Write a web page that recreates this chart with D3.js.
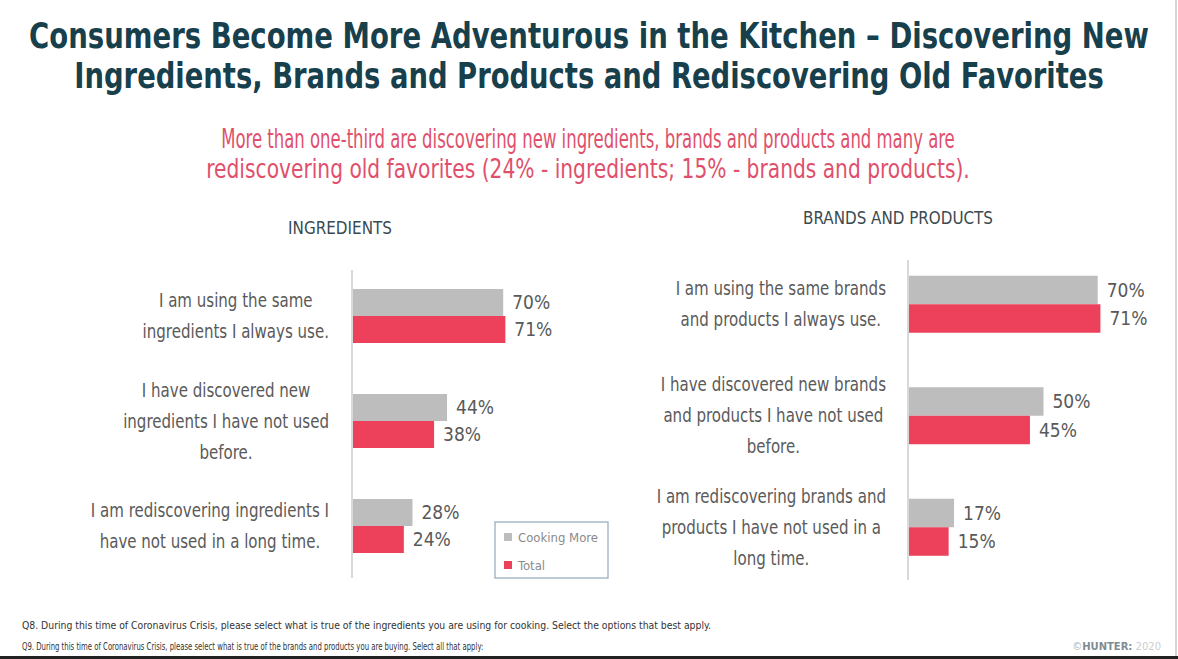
<!DOCTYPE html>
<html>
<head>
<meta charset="utf-8">
<script src="https://cdn.jsdelivr.net/npm/d3@7"></script>
<style>
  body { margin: 0; background: #fff; }
  svg { display: block; }
</style>
</head>
<body>
<div id="chart"></div>
<script>
// data
let series = ["Cooking More", "Total"];

let ingCats = [
  ["I am using the same", "ingredients I always use."],
  ["I have discovered new", "ingredients I have not used", "before."],
  ["I am rediscovering ingredients I", "have not used in a long time."]
];
let ingCooking = [70, 44, 28];
let ingTotal = [71, 38, 24];

let brandCats = [
  ["I am using the same brands", "and products I always use."],
  ["I have discovered new brands", "and products I have not used", "before."],
  ["I am rediscovering brands and", "products I have not used in a", "long time."]
];
let brandCooking = [70, 50, 17];
let brandTotal = [71, 45, 15];

let W = 1178, H = 659;
let grayC = "#bdbdbe", redC = "#ec405b";
let labelFont = "'DejaVu Sans Condensed', 'Open Sans', sans-serif";

let svg = d3.select("#chart")
              .append("svg")
                .attr("width", W)
                .attr("height", H)
;

// slide frame
svg.append("rect").attr("x", 0).attr("y", 0).attr("width", W).attr("height", H).attr("fill", "#fff");
svg.append("line").attr("x1", 1176).attr("x2", 1176).attr("y1", 0).attr("y2", H)
    .attr("stroke", "#c8c8c8").attr("stroke-width", 1.5);
svg.append("rect").attr("x", 0).attr("y", 656).attr("width", W).attr("height", 3).attr("fill", "#222");

// squeeze a text horizontally to a target width (the slide font is condensed)
function squeezed(x, y, anchor, target, size, fill, weight, txt){
  let g = svg.append("g");
  let t = g.append("text")
      .attr("text-anchor", anchor)
      .attr("font-family", labelFont)
      .attr("font-weight", weight)
      .attr("font-size", size)
      .attr("fill", fill)
      .text(txt);
  let k = target / t.node().getComputedTextLength();
  g.attr("transform", "translate(" + x + "," + y + ") scale(" + k + ",1)");
  return t;
}

// title
let titleLines = [
  {t: "Consumers Become More Adventurous in the Kitchen \u2013 Discovering New", y: 48, w: 1120},
  {t: "Ingredients, Brands and Products and Rediscovering Old Favorites", y: 88, w: 1030}
];
titleLines.forEach(function(l){
  squeezed(589, l.y, "middle", l.w, 36, "#17404c", "bold", l.t);
});

let subLines = [
  {t: "More than one-third are discovering new ingredients, brands and products  and many are", y: 148, w: 734},
  {t: "rediscovering old favorites (24% - ingredients; 15% - brands and products).", y: 178, w: 764}
];
subLines.forEach(function(l){
  squeezed(588, l.y, "middle", l.w, 27, "#e0506c", "normal", l.t);
});

function drawPanel(opt){
  let g = svg.append("g");
  let idx = d3.range(opt.cats.length);

  let x = d3.scaleLinear().domain([0, 100]).range([opt.x0, opt.x0 + opt.pxPer * 100]);
  let y = d3.scaleBand().domain(idx).range(opt.yRange).padding(0);
  let yi = d3.scaleBand().domain(series).range([y.bandwidth()/2 - opt.barH, y.bandwidth()/2 + opt.barH]);

  // panel heading
  squeezed(opt.headX, opt.headY, "middle", opt.headW, 17, "#3a4a50", "normal", opt.head);

  let rows = idx.map(function(i){
    return {i: i, vals: [opt.cook[i], opt.total[i]]};
  });

  let grp = g.selectAll(".grp")
              .data(rows)
              .enter()
              .append("g")
                .attr("transform", function(d){ return "translate(0," + y(d.i) + ")"; });

  grp.selectAll("rect")
      .data(function(d){ return d.vals.map(function(v, k){ return {s: series[k], v: v}; }); })
      .enter()
      .append("rect")
        .attr("x", x(0))
        .attr("y", function(d){ return yi(d.s); })
        .attr("width", function(d){ return x(d.v) - x(0); })
        .attr("height", yi.bandwidth())
        .attr("fill", function(d){ return d.s === "Total" ? redC : grayC; });

  grp.selectAll(".val")
      .data(function(d){ return d.vals.map(function(v, k){ return {s: series[k], v: v}; }); })
      .enter()
      .append("text")
        .attr("x", function(d){ return x(d.v) + 9; })
        .attr("y", function(d){ return yi(d.s) + yi.bandwidth()/2; })
        .attr("dy", "0.35em")
        .attr("font-family", labelFont)
        .attr("font-size", 19)
        .attr("fill", "#595959")
        .text(function(d){ return d.v + "%"; });

  // category labels: centred lines, block right-aligned
  grp.each(function(d){
    let lines = opt.cats[d.i];
    let sel = d3.select(this);
    let tmp = sel.selectAll(".cl")
                  .data(lines)
                  .enter()
                  .append("text")
                    .attr("font-family", labelFont)
                    .attr("font-size", 19)
                    .attr("fill", "#5a5a5a")
                    .attr("text-anchor", "middle")
                    .text(function(t){ return t; });
    let maxW = 0;
    tmp.each(function(){
      let w = this.getComputedTextLength() * 0.88;
      d3.select(this).attr("textLength", w).attr("lengthAdjust", "spacingAndGlyphs");
      maxW = Math.max(maxW, w);
    });
    let cx = opt.labRight - maxW/2;
    let mid = y.bandwidth()/2;
    tmp.attr("x", cx)
       .attr("y", function(t, j){ return mid + (j - (lines.length - 1)/2) * opt.lineH; })
       .attr("dy", "0.35em");
  });

  // axis line
  g.append("line")
      .attr("x1", x(0)).attr("x2", x(0))
      .attr("y1", opt.axisY[0]).attr("y2", opt.axisY[1])
      .attr("stroke", "#d9d9d9")
      .attr("stroke-width", 2);
}

drawPanel({
  head: "INGREDIENTS", headX: 340, headY: 234, headW: 104,
  cats: ingCats, cook: ingCooking, total: ingTotal,
  x0: 352, pxPer: 2.16, yRange: [263.5, 578.5], barH: 27,
  axisY: [270, 578], labRight: 329, lineH: 31
});

drawPanel({
  head: "BRANDS AND PRODUCTS", headX: 898, headY: 224, headW: 190,
  cats: brandCats, cook: brandCooking, total: brandTotal,
  x0: 908, pxPer: 2.71, yRange: [248.5, 583], barH: 28.5,
  axisY: [260, 580], labRight: 886, lineH: 31
});

// legend
let leg = svg.append("g").attr("transform", "translate(495,522)");
leg.append("rect")
    .attr("x", 0).attr("y", 0).attr("width", 113).attr("height", 56)
    .attr("fill", "#fff").attr("stroke", "#8fa8bd").attr("stroke-width", 1.2);
let li = leg.selectAll(".li")
            .data(series)
            .enter()
            .append("g")
              .attr("transform", function(d, i){ return "translate(9," + (15 + i * 28) + ")"; });
li.append("rect")
    .attr("x", 0).attr("y", -4).attr("width", 8).attr("height", 8)
    .attr("fill", function(d){ return d === "Total" ? redC : grayC; });
li.append("text")
    .attr("x", 14).attr("y", 0).attr("dy", "0.35em")
    .attr("font-family", labelFont)
    .attr("font-size", 13)
    .attr("fill", "#8a8a8a")
    .text(function(d){ return d; });

// footnotes
let notes = [
  {t: "Q8. During this time of Coronavirus Crisis, please select what is true of the ingredients you are using for cooking. Select the options that best apply.", y: 629, w: 690},
  {t: "Q9. During this time of Coronavirus Crisis, please select what is true of the brands and products you are buying. Select all that apply:", y: 650, w: 462}
];
notes.forEach(function(n){
  squeezed(22, n.y, "start", n.w, 10.5, "#333", "normal", n.t);
});

let brand = svg.append("text")
    .attr("x", 1161).attr("y", 650)
    .attr("text-anchor", "end")
    .attr("font-family", "'DejaVu Sans', sans-serif")
    .attr("font-size", 10);
brand.append("tspan").attr("fill", "#aab4b8").text("\u00a9");
brand.append("tspan").attr("fill", "#7e8c92").attr("font-weight", "bold").text("HUNTER:");
brand.append("tspan").attr("fill", "#c9cfd2").text(" 2020");
</script>
</body>
</html>
